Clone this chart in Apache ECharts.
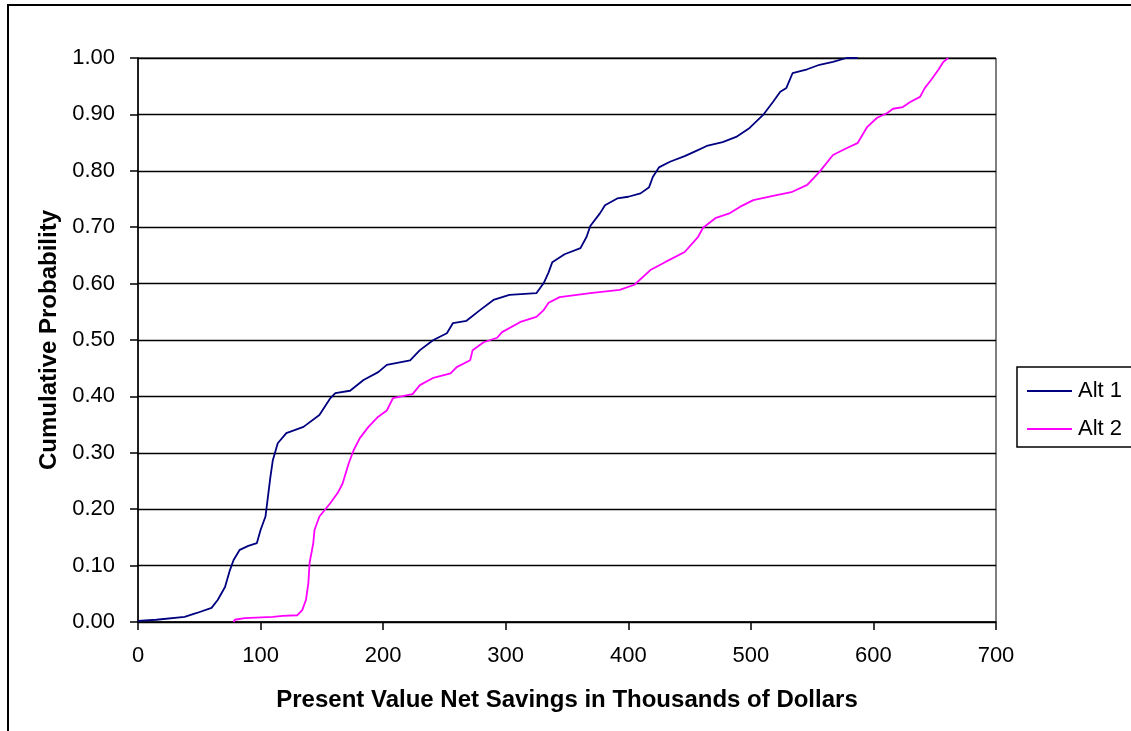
<!DOCTYPE html>
<html>
<head>
<meta charset="utf-8">
<script src="https://cdn.jsdelivr.net/npm/echarts@6/dist/echarts.min.js"></script>
<style>
html,body{margin:0;padding:0;background:#fff;}
#chart{width:1131px;height:731px;}
</style>
</head>
<body>
<div id="chart"></div>
<script>
const seriesNames = ['Alt 1', 'Alt 2'];
const alt1X = [0,15,16,38,48,60,65,71,75,78,83,90,97,100,104,106,108,110,114,121,135,148,157,161,173,184,196,203,222,230,241,252,257,268,279,290,303,325,331,335,338,348,361,366,369,377,381,391,400,410,417,420,425,434,446,455,464,477,488,499,510,518,524,529,534,546,556,567,578,587];
const alt1Y = [0.002,0.004,0.007,0.009,0.016,0.025,0.039,0.062,0.092,0.11,0.128,0.135,0.14,0.163,0.187,0.222,0.257,0.287,0.317,0.335,0.346,0.367,0.397,0.406,0.41,0.429,0.443,0.456,0.464,0.482,0.5,0.512,0.53,0.534,0.553,0.571,0.58,0.583,0.601,0.62,0.638,0.652,0.663,0.683,0.702,0.725,0.739,0.751,0.754,0.76,0.771,0.789,0.806,0.816,0.826,0.835,0.844,0.851,0.86,0.876,0.899,0.922,0.94,0.947,0.973,0.98,0.988,0.993,1.0,1.0];
const alt2X = [78,79,87,110,118,130,134,137,139,140,143,144,148,157,163,167,172,176,181,188,196,203,208,224,230,241,255,260,271,273,282,293,297,312,325,331,335,344,369,393,405,418,430,446,457,461,471,483,491,502,521,533,546,556,567,578,587,595,603,611,616,624,630,638,642,647,653,657,661];
const alt2Y = [0.0,0.004,0.007,0.009,0.011,0.012,0.021,0.039,0.069,0.105,0.14,0.163,0.187,0.211,0.229,0.246,0.282,0.305,0.326,0.346,0.364,0.375,0.397,0.404,0.42,0.433,0.441,0.452,0.464,0.482,0.496,0.504,0.514,0.532,0.541,0.553,0.566,0.576,0.583,0.589,0.598,0.624,0.638,0.656,0.683,0.699,0.716,0.725,0.736,0.748,0.757,0.762,0.775,0.798,0.828,0.84,0.849,0.878,0.894,0.902,0.91,0.913,0.922,0.931,0.947,0.961,0.979,0.993,1.0];
const xTicks = [0,100,200,300,400,500,600,700];
const yTicks = [0,0.1,0.2,0.3,0.4,0.5,0.6,0.7,0.8,0.9,1.0];
const xTitle = 'Present Value Net Savings in Thousands of Dollars';
const yTitle = 'Cumulative Probability';

const zip = (xs, ys) => xs.map((x, i) => [x, ys[i]]);
const font = 'Liberation Sans, Arial, sans-serif';

const chart = echarts.init(document.getElementById('chart'), null, {renderer: 'canvas'});
chart.setOption({
  animation: false,
  backgroundColor: '#fff',
  textStyle: {fontFamily: font, color: '#000'},
  graphic: [{
    type: 'rect', silent: true, z: -1,
    shape: {x: 8, y: 5, width: 1300, height: 900},
    style: {fill: 'none', stroke: '#000', lineWidth: 2}
  }],
  grid: {left: 138, right: 135, top: 58, bottom: 109, show: true, borderColor: '#000', borderWidth: 1, backgroundColor: 'transparent'},
  legend: {
    left: 1017, top: 367,
    orient: 'vertical',
    data: seriesNames.map(n => ({name: n, icon: 'rect'})),
    itemWidth: 45, itemHeight: 2, itemGap: 16,
    padding: [13, 10, 7, 10],
    borderColor: '#000', borderWidth: 1.5, borderRadius: 0,
    textStyle: {fontFamily: font, fontSize: 22, color: '#000', lineHeight: 22, padding: [0, 0, 0, 1]}
  },
  xAxis: {
    type: 'value', min: xTicks[0], max: xTicks[xTicks.length - 1], interval: 100,
    name: xTitle, nameLocation: 'middle', nameGap: 66,
    nameTextStyle: {fontFamily: font, fontSize: 24, fontWeight: 'bold', color: '#000'},
    axisLine: {show: true, onZero: false, lineStyle: {color: '#000', width: 1.5}},
    axisTick: {show: true, inside: false, length: 8, lineStyle: {color: '#000', width: 1.5}},
    axisLabel: {fontFamily: font, fontSize: 22, color: '#000', margin: 23},
    splitLine: {show: false}
  },
  yAxis: {
    type: 'value', min: yTicks[0], max: yTicks[yTicks.length - 1], interval: 0.1,
    name: yTitle, nameLocation: 'middle', nameGap: 74,
    nameTextStyle: {fontFamily: font, fontSize: 24, fontWeight: 'bold', color: '#000'},
    axisLine: {show: true, onZero: false, lineStyle: {color: '#000', width: 1.5}},
    axisTick: {show: true, inside: false, length: 8, lineStyle: {color: '#000', width: 1.5}},
    axisLabel: {fontFamily: font, fontSize: 22, color: '#000', margin: 23, formatter: v => v.toFixed(2)},
    splitLine: {show: true, lineStyle: {color: '#000', width: 1.3}}
  },
  series: [
    {name: seriesNames[0], type: 'line', data: zip(alt1X, alt1Y), symbol: 'none', showSymbol: false,
     lineStyle: {color: '#000080', width: 1.8}, itemStyle: {color: '#000080'}},
    {name: seriesNames[1], type: 'line', data: zip(alt2X, alt2Y), symbol: 'none', showSymbol: false,
     lineStyle: {color: '#FF00FF', width: 1.8}, itemStyle: {color: '#FF00FF'}}
  ]
});
</script>
</body>
</html>
